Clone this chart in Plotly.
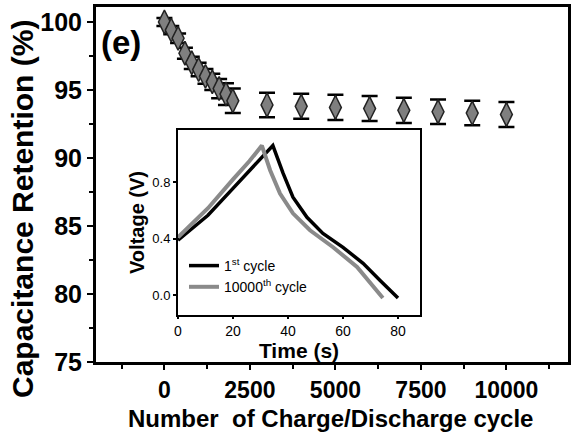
import plotly.graph_objects as go

# ---- main data: capacitance retention vs cycle number ----
cycles = [0, 200, 400, 600, 800, 1000, 1200, 1400, 1600, 1800, 2000,
          3000, 4000, 5000, 6000, 7000, 8000, 9000, 10000]
retention = [100.0, 99.4, 98.8, 97.7, 97.0, 96.5, 96.0, 95.6, 95.1, 94.7, 94.2,
             93.9, 93.8, 93.72, 93.63, 93.5, 93.4, 93.3, 93.2]
retention_err = [0.3, 0.3, 0.35, 0.4, 0.45, 0.5, 0.55, 0.6, 0.7, 0.8, 0.9,
                 0.9, 0.92, 0.92, 0.92, 0.92, 0.9, 0.9, 0.92]

# ---- inset data: galvanostatic charge/discharge ----
t_first = [0, 10.9, 20, 28, 34.5, 38.2, 41.8, 46.9, 52.7, 60.0, 67.3, 73.5, 80.0]
v_first = [0.39, 0.566, 0.757, 0.925, 1.06, 0.864, 0.694, 0.552, 0.438, 0.339, 0.226, 0.105, -0.02]
t_last = [0, 10.9, 20, 26, 30.5, 33.5, 37.1, 41.8, 48.0, 56.4, 65.1, 74.5]
v_last = [0.41, 0.616, 0.82, 0.95, 1.06, 0.885, 0.72, 0.58, 0.46, 0.34, 0.20, -0.02]

main_xticks = [0, 2500, 5000, 7500, 10000]
main_xticklabels = ["0", "2500", "5000", "7500", "10000"]
inset_yticks = [0.0, 0.4, 0.8]
inset_yticklabels = ["0.0", "0.4", "0.8"]
inset_xticks = [0, 20, 40, 60, 80]

FONT = "Liberation Sans, Arial, sans-serif"

fig = go.Figure()

fig.add_trace(go.Scatter(
    x=cycles, y=retention, mode="markers",
    marker=dict(symbol="diamond-tall", size=17, color="#7f7f7f",
                line=dict(color="#222", width=1.5)),
    error_y=dict(type="data", array=retention_err, color="black",
                 thickness=2.5, width=8),
    showlegend=False, xaxis="x", yaxis="y"))

fig.add_trace(go.Scatter(
    x=t_first, y=v_first, mode="lines", name="1<sup>st</sup> cycle",
    line=dict(color="black", width=3.5), xaxis="x2", yaxis="y2"))
fig.add_trace(go.Scatter(
    x=t_last, y=v_last, mode="lines", name="10000<sup>th</sup> cycle",
    line=dict(color="#8a8a8a", width=4), xaxis="x2", yaxis="y2"))

W, H = 575, 433
L, R, T, B = 96, 7, 7, 71
pw, ph = W - L - R, H - T - B

def px_x(px):
    return (px - L) / pw

def px_y(py):
    return 1 - (py - T) / ph

fig.update_layout(
    width=W, height=H,
    margin=dict(l=L, r=R, t=T, b=B),
    paper_bgcolor="white", plot_bgcolor="white",
    font=dict(family=FONT, color="black"),
    xaxis=dict(range=[-2000, 11800], tickvals=main_xticks,
               ticktext=main_xticklabels, automargin=False,
               ticks="outside", ticklen=5, tickwidth=2, tickcolor="black",
               minor=dict(dtick=1250, tick0=0, ticks="outside", ticklen=4,
                          tickwidth=2, tickcolor="black"),
               showline=True, linewidth=3, linecolor="black", mirror=True,
               showgrid=False, zeroline=False,
               tickfont=dict(size=23, weight="bold")),
    yaxis=dict(range=[75, 101.1], dtick=5, tick0=75, automargin=False,
               ticks="outside", ticklen=6, tickwidth=2, tickcolor="black",
               minor=dict(dtick=2.5, tick0=75, ticks="outside", ticklen=4,
                          tickwidth=2, tickcolor="black"),
               showline=True, linewidth=3, linecolor="black", mirror=True,
               showgrid=False, zeroline=False,
               tickfont=dict(size=25, weight="bold")),
    xaxis2=dict(domain=[px_x(178), px_x(420)], anchor="y2", automargin=False,
                range=[0, 88], tickvals=inset_xticks,
                ticks="outside", ticklen=2, tickwidth=1.5, tickcolor="black",
                showline=True, linewidth=2, linecolor="black", mirror=True,
                showgrid=False, zeroline=False,
                tickfont=dict(size=14),
                title=dict(text="Time (s)", font=dict(size=21, weight="bold"),
                           standoff=0)),
    yaxis2=dict(domain=[px_y(315), px_y(130)], anchor="x2", automargin=False,
                range=[-0.14, 1.17], tickvals=inset_yticks,
                ticktext=inset_yticklabels,
                ticks="outside", ticklen=3, tickwidth=1.5, tickcolor="black",
                showline=True, linewidth=2, linecolor="black", mirror=True,
                showgrid=False, zeroline=False,
                tickfont=dict(size=13),
                title=dict(text="Voltage (V)", font=dict(size=20, weight="bold"),
                           standoff=2)),
    legend=dict(x=px_x(184), y=px_y(250), xanchor="left", yanchor="top",
                bgcolor="rgba(0,0,0,0)", font=dict(size=14),
                tracegroupgap=0, itemwidth=30),
    annotations=[
        dict(text="<b>(e)</b>", x=px_x(99), y=px_y(22),
             xref="paper", yref="paper", xanchor="left", yanchor="top",
             showarrow=False, font=dict(size=33, color="black")),
        dict(text="<b>Capacitance Retention (%)</b>", textangle=-90,
             x=px_x(22), y=px_y(209), xref="paper", yref="paper",
             xanchor="center", yanchor="middle", showarrow=False,
             font=dict(size=30, color="black")),
        dict(text="<b>Number  of Charge/Discharge cycle</b>",
             x=px_x(330), y=px_y(418), xref="paper", yref="paper",
             xanchor="center", yanchor="middle", showarrow=False,
             font=dict(size=24, color="black")),
    ],
)

fig.write_html("out.html", config={"displayModeBar": False},
               post_script="document.body.style.margin='0px';")
